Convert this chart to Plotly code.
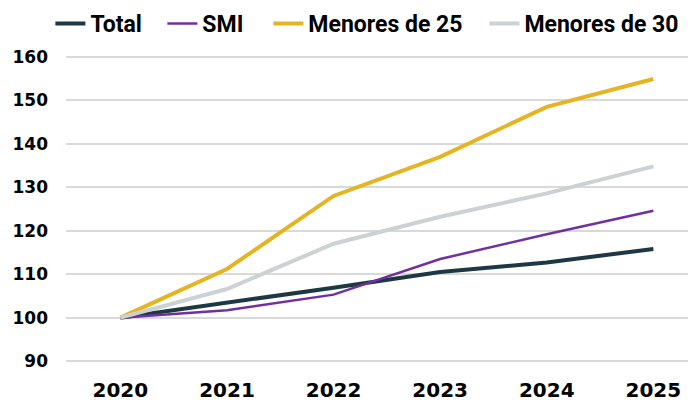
import plotly.graph_objects as go

years = [2020, 2021, 2022, 2023, 2024, 2025]
total = [100, 103.4, 106.9, 110.5, 112.7, 115.8]
smi = [100, 101.7, 105.3, 113.5, 119.2, 124.6]
menores25 = [100, 111.2, 128.0, 137.0, 148.5, 154.9]
menores30 = [100, 106.6, 117.0, 123.2, 128.6, 134.8]
y_ticks = [90, 100, 110, 120, 130, 140, 150, 160]

series = [
    ("Total", total, "#1e3843", 4, "legend", 0.0609),
    ("SMI", smi, "#7030a0", 2.5, "legend2", 0.2218),
    ("Menores de 25", menores25, "#e4b423", 4, "legend3", 0.3741),
    ("Menores de 30", menores30, "#ccd2d4", 4, "legend4", 0.6845),
]

fig = go.Figure()
legends = {}
for name, vals, color, w, lg, lx in series:
    fig.add_trace(go.Scatter(x=years, y=vals, name=name, mode="lines", legend=lg,
                             line=dict(color=color, width=w)))
    legends[lg] = dict(orientation="h", xref="container", yref="paper",
                       x=lx, y=1.135, xanchor="left", yanchor="top",
                       bgcolor="rgba(0,0,0,0)",
                       font=dict(family="Roboto", size=23, weight="bold", color="#000000"),
                       itemwidth=30, itemclick=False)

fig.update_layout(
    width=696, height=404,
    margin=dict(l=58, r=8, t=38, b=40, autoexpand=False),
    paper_bgcolor="white", plot_bgcolor="white",
    showlegend=True,
    font=dict(family="DejaVu Sans", color="#000000"),
    **legends,
)
fig.update_xaxes(range=[2019.49, 2025.40], tickvals=years, ticktext=[str(y) for y in years],
                 showgrid=False, zeroline=False, showline=False, ticks="", automargin=False,
                 tickfont=dict(family="DejaVu Sans", size=20, weight="bold", color="#000000"),
                 ticklabelstandoff=4)
fig.update_yaxes(range=[87.5, 162.5], tickvals=y_ticks, automargin=False,
                 showgrid=True, gridcolor="#d9d9d9", gridwidth=1.5, zeroline=False, showline=False,
                 ticks="", tickfont=dict(family="DejaVu Sans", size=17, weight="bold", color="#000000"),
                 ticklabelstandoff=17)

fig.write_html("out.html")
